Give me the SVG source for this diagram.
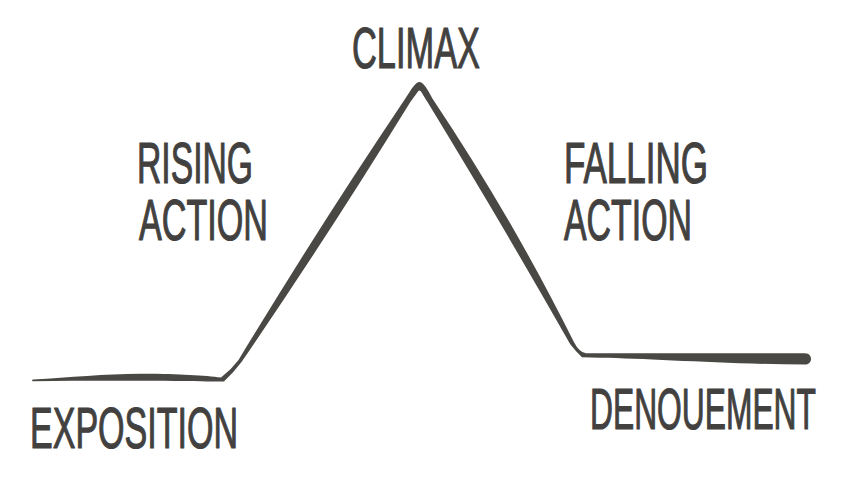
<svg xmlns="http://www.w3.org/2000/svg" width="850" height="480" viewBox="0 0 850 480">
  <style>
    .lbl { font-family: "Liberation Sans", Arial, sans-serif; font-size: 58px; fill: #424140; stroke: #424140; stroke-width: 1.2; stroke-linejoin: round; }
    .curve { fill: #4a4844; }
  </style>
  <rect width="850" height="480" fill="#ffffff"/>
  <g id="connectors">
    <path class="curve" d="M 33,379.5
      C 70,377.5 105,374 140,373.8
      C 175,373.6 205,375.5 221,377.6
      Q 231,370 238.5,360
      C 292.1,271.4 347.7,184.1 405.5,98.3
      C 412,88 416,82 419.3,82 C 423,82 427,88 432.4,98.5
      C 484.8,176.6 531.9,257.8 573.9,341.9
      Q 579,352 586,353.3
      C 650,353.5 720,353 805,353.3
      C 813,353.5 813,364.5 805,364.5
      C 720,364 650,358.5 600,357.8
      L 582,357.2
      Q 576,352 570.1,344.1
      C 523.8,262.4 476.1,181.6 427.2,101.5
      C 423,95 421,90.5 419.5,90.5 C 418,90.5 416,95 410.5,101.7
      C 356.3,189.9 299.9,276.6 241.5,362
      Q 234,372 224,381.5
      C 200,381.5 130,380 33,381.2
      Q 31,380.5 33,379.5 Z"/>
  </g>
  <g id="climax"><text class="lbl" transform="translate(352,68) scale(0.585,1)" textLength="218.8" lengthAdjust="spacingAndGlyphs">CLIMAX</text></g>
  <g id="rising-action">
    <text class="lbl" transform="translate(137,183) scale(0.585,1)" textLength="198.3" lengthAdjust="spacingAndGlyphs">RISING</text>
    <text class="lbl" transform="translate(139,240) scale(0.585,1)" textLength="220.5" lengthAdjust="spacingAndGlyphs">ACTION</text>
  </g>
  <g id="falling-action">
    <text class="lbl" transform="translate(564,183) scale(0.585,1)" textLength="246.2" lengthAdjust="spacingAndGlyphs">FALLING</text>
    <text class="lbl" transform="translate(564,240) scale(0.585,1)" textLength="218.8" lengthAdjust="spacingAndGlyphs">ACTION</text>
  </g>
  <g id="exposition"><text class="lbl" transform="translate(30,448) scale(0.585,1)" textLength="355.6" lengthAdjust="spacingAndGlyphs">EXPOSITION</text></g>
  <g id="denouement"><text class="lbl" transform="translate(590,429) scale(0.585,1)" textLength="386.3" lengthAdjust="spacingAndGlyphs">DENOUEMENT</text></g>
</svg>
